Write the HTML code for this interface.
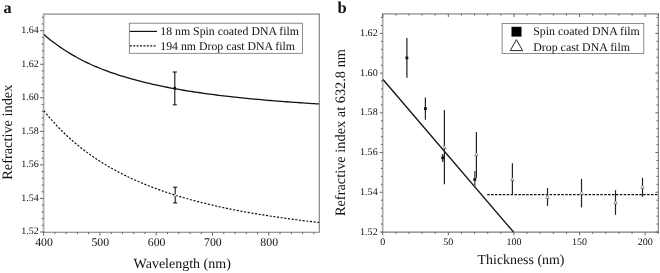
<!DOCTYPE html>
<html><head><meta charset="utf-8"><title>Figure</title>
<style>
html,body{margin:0;padding:0;background:#fff;}
svg{display:block;font-family:"Liberation Serif",serif;fill:#111;text-rendering:geometricPrecision;}
</style></head>
<body>
<svg width="660" height="273" viewBox="0 0 660 273" style="will-change:transform">
<rect x="0" y="0" width="660" height="273" fill="#fff"/>
<path d="M43.60,232.70 L43.60,14.10 L319.60,14.10" fill="none" stroke="#adadad" stroke-width="1.7" stroke-linejoin="miter"/>
<path d="M42.80,232.30 L319.30,232.30 L319.30,13.70" fill="none" stroke="#7c7c7c" stroke-width="1.1" stroke-linejoin="round"/>
<line x1="40.00" y1="232.00" x2="43.60" y2="232.00" stroke="#555" stroke-width="0.9" />
<text x="38.70" y="234.30" font-size="10" text-anchor="end" font-weight="normal" >1.52</text>
<line x1="41.70" y1="225.29" x2="43.60" y2="225.29" stroke="#555" stroke-width="0.9" />
<line x1="41.70" y1="218.58" x2="43.60" y2="218.58" stroke="#555" stroke-width="0.9" />
<line x1="41.70" y1="211.87" x2="43.60" y2="211.87" stroke="#555" stroke-width="0.9" />
<line x1="41.70" y1="205.16" x2="43.60" y2="205.16" stroke="#555" stroke-width="0.9" />
<line x1="40.00" y1="198.45" x2="43.60" y2="198.45" stroke="#555" stroke-width="0.9" />
<text x="38.70" y="200.75" font-size="10" text-anchor="end" font-weight="normal" >1.54</text>
<line x1="41.70" y1="191.74" x2="43.60" y2="191.74" stroke="#555" stroke-width="0.9" />
<line x1="41.70" y1="185.03" x2="43.60" y2="185.03" stroke="#555" stroke-width="0.9" />
<line x1="41.70" y1="178.32" x2="43.60" y2="178.32" stroke="#555" stroke-width="0.9" />
<line x1="41.70" y1="171.61" x2="43.60" y2="171.61" stroke="#555" stroke-width="0.9" />
<line x1="40.00" y1="164.90" x2="43.60" y2="164.90" stroke="#555" stroke-width="0.9" />
<text x="38.70" y="167.20" font-size="10" text-anchor="end" font-weight="normal" >1.56</text>
<line x1="41.70" y1="158.19" x2="43.60" y2="158.19" stroke="#555" stroke-width="0.9" />
<line x1="41.70" y1="151.48" x2="43.60" y2="151.48" stroke="#555" stroke-width="0.9" />
<line x1="41.70" y1="144.77" x2="43.60" y2="144.77" stroke="#555" stroke-width="0.9" />
<line x1="41.70" y1="138.06" x2="43.60" y2="138.06" stroke="#555" stroke-width="0.9" />
<line x1="40.00" y1="131.35" x2="43.60" y2="131.35" stroke="#555" stroke-width="0.9" />
<text x="38.70" y="133.65" font-size="10" text-anchor="end" font-weight="normal" >1.58</text>
<line x1="41.70" y1="124.64" x2="43.60" y2="124.64" stroke="#555" stroke-width="0.9" />
<line x1="41.70" y1="117.93" x2="43.60" y2="117.93" stroke="#555" stroke-width="0.9" />
<line x1="41.70" y1="111.22" x2="43.60" y2="111.22" stroke="#555" stroke-width="0.9" />
<line x1="41.70" y1="104.51" x2="43.60" y2="104.51" stroke="#555" stroke-width="0.9" />
<line x1="40.00" y1="97.80" x2="43.60" y2="97.80" stroke="#555" stroke-width="0.9" />
<text x="38.70" y="100.10" font-size="10" text-anchor="end" font-weight="normal" >1.60</text>
<line x1="41.70" y1="91.09" x2="43.60" y2="91.09" stroke="#555" stroke-width="0.9" />
<line x1="41.70" y1="84.38" x2="43.60" y2="84.38" stroke="#555" stroke-width="0.9" />
<line x1="41.70" y1="77.67" x2="43.60" y2="77.67" stroke="#555" stroke-width="0.9" />
<line x1="41.70" y1="70.96" x2="43.60" y2="70.96" stroke="#555" stroke-width="0.9" />
<line x1="40.00" y1="64.25" x2="43.60" y2="64.25" stroke="#555" stroke-width="0.9" />
<text x="38.70" y="66.55" font-size="10" text-anchor="end" font-weight="normal" >1.62</text>
<line x1="41.70" y1="57.54" x2="43.60" y2="57.54" stroke="#555" stroke-width="0.9" />
<line x1="41.70" y1="50.83" x2="43.60" y2="50.83" stroke="#555" stroke-width="0.9" />
<line x1="41.70" y1="44.12" x2="43.60" y2="44.12" stroke="#555" stroke-width="0.9" />
<line x1="41.70" y1="37.41" x2="43.60" y2="37.41" stroke="#555" stroke-width="0.9" />
<line x1="40.00" y1="30.70" x2="43.60" y2="30.70" stroke="#555" stroke-width="0.9" />
<text x="38.70" y="33.00" font-size="10" text-anchor="end" font-weight="normal" >1.64</text>
<line x1="41.70" y1="23.99" x2="43.60" y2="23.99" stroke="#555" stroke-width="0.9" />
<line x1="41.70" y1="17.28" x2="43.60" y2="17.28" stroke="#555" stroke-width="0.9" />
<line x1="43.60" y1="232.30" x2="43.60" y2="235.60" stroke="#555" stroke-width="0.9" />
<text x="44.00" y="246.40" font-size="11.8" text-anchor="middle" font-weight="normal" >400</text>
<line x1="54.86" y1="232.30" x2="54.86" y2="234.20" stroke="#555" stroke-width="0.9" />
<line x1="66.12" y1="232.30" x2="66.12" y2="234.20" stroke="#555" stroke-width="0.9" />
<line x1="77.38" y1="232.30" x2="77.38" y2="234.20" stroke="#555" stroke-width="0.9" />
<line x1="88.64" y1="232.30" x2="88.64" y2="234.20" stroke="#555" stroke-width="0.9" />
<line x1="99.90" y1="232.30" x2="99.90" y2="235.60" stroke="#555" stroke-width="0.9" />
<text x="100.30" y="246.40" font-size="11.8" text-anchor="middle" font-weight="normal" >500</text>
<line x1="111.16" y1="232.30" x2="111.16" y2="234.20" stroke="#555" stroke-width="0.9" />
<line x1="122.42" y1="232.30" x2="122.42" y2="234.20" stroke="#555" stroke-width="0.9" />
<line x1="133.68" y1="232.30" x2="133.68" y2="234.20" stroke="#555" stroke-width="0.9" />
<line x1="144.94" y1="232.30" x2="144.94" y2="234.20" stroke="#555" stroke-width="0.9" />
<line x1="156.20" y1="232.30" x2="156.20" y2="235.60" stroke="#555" stroke-width="0.9" />
<text x="156.60" y="246.40" font-size="11.8" text-anchor="middle" font-weight="normal" >600</text>
<line x1="167.46" y1="232.30" x2="167.46" y2="234.20" stroke="#555" stroke-width="0.9" />
<line x1="178.72" y1="232.30" x2="178.72" y2="234.20" stroke="#555" stroke-width="0.9" />
<line x1="189.98" y1="232.30" x2="189.98" y2="234.20" stroke="#555" stroke-width="0.9" />
<line x1="201.24" y1="232.30" x2="201.24" y2="234.20" stroke="#555" stroke-width="0.9" />
<line x1="212.50" y1="232.30" x2="212.50" y2="235.60" stroke="#555" stroke-width="0.9" />
<text x="212.90" y="246.40" font-size="11.8" text-anchor="middle" font-weight="normal" >700</text>
<line x1="223.76" y1="232.30" x2="223.76" y2="234.20" stroke="#555" stroke-width="0.9" />
<line x1="235.02" y1="232.30" x2="235.02" y2="234.20" stroke="#555" stroke-width="0.9" />
<line x1="246.28" y1="232.30" x2="246.28" y2="234.20" stroke="#555" stroke-width="0.9" />
<line x1="257.54" y1="232.30" x2="257.54" y2="234.20" stroke="#555" stroke-width="0.9" />
<line x1="268.80" y1="232.30" x2="268.80" y2="235.60" stroke="#555" stroke-width="0.9" />
<text x="269.20" y="246.40" font-size="11.8" text-anchor="middle" font-weight="normal" >800</text>
<line x1="280.06" y1="232.30" x2="280.06" y2="234.20" stroke="#555" stroke-width="0.9" />
<line x1="291.32" y1="232.30" x2="291.32" y2="234.20" stroke="#555" stroke-width="0.9" />
<line x1="302.58" y1="232.30" x2="302.58" y2="234.20" stroke="#555" stroke-width="0.9" />
<line x1="313.84" y1="232.30" x2="313.84" y2="234.20" stroke="#555" stroke-width="0.9" />
<text x="133.60" y="268.20" font-size="14" text-anchor="start" font-weight="normal" >Wavelength (nm)</text>
<text transform="translate(12.1,179.8) rotate(-90)" font-size="14.35">Refractive index</text>
<text x="3.60" y="12.70" font-size="16.2" text-anchor="start" font-weight="bold" >a</text>
<path d="M43.90,34.37 C44.68,35.04 47.01,37.09 48.56,38.38 C50.12,39.67 51.67,40.91 53.23,42.10 C54.78,43.30 56.33,44.45 57.89,45.57 C59.44,46.68 61.00,47.76 62.55,48.80 C64.11,49.84 65.66,50.84 67.21,51.81 C68.77,52.79 70.32,53.72 71.88,54.63 C73.43,55.54 74.98,56.42 76.54,57.27 C78.09,58.13 79.65,58.95 81.20,59.75 C82.76,60.55 84.31,61.32 85.86,62.07 C87.42,62.83 88.97,63.55 90.53,64.26 C92.08,64.97 93.64,65.65 95.19,66.32 C96.74,66.99 98.30,67.63 99.85,68.26 C101.41,68.89 102.96,69.50 104.52,70.09 C106.07,70.69 107.62,71.26 109.18,71.82 C110.73,72.39 112.29,72.93 113.84,73.46 C115.39,73.99 116.95,74.51 118.50,75.01 C120.06,75.52 121.61,76.01 123.17,76.48 C124.72,76.96 126.27,77.43 127.83,77.88 C129.38,78.33 130.94,78.77 132.49,79.21 C134.05,79.64 135.60,80.06 137.15,80.47 C138.71,80.87 140.26,81.27 141.82,81.66 C143.37,82.05 144.93,82.43 146.48,82.81 C148.03,83.18 149.59,83.54 151.14,83.89 C152.70,84.25 154.25,84.59 155.81,84.93 C157.36,85.27 158.91,85.60 160.47,85.92 C162.02,86.24 163.58,86.56 165.13,86.87 C166.68,87.18 168.24,87.48 169.79,87.77 C171.35,88.07 172.90,88.36 174.46,88.64 C176.01,88.92 177.56,89.20 179.12,89.47 C180.67,89.74 182.23,90.00 183.78,90.26 C185.34,90.52 186.89,90.77 188.44,91.02 C190.00,91.27 191.55,91.51 193.11,91.75 C194.66,91.99 196.22,92.22 197.77,92.45 C199.32,92.68 200.88,92.90 202.43,93.12 C203.99,93.34 205.54,93.56 207.09,93.77 C208.65,93.98 210.20,94.19 211.76,94.39 C213.31,94.59 214.87,94.79 216.42,94.99 C217.97,95.18 219.53,95.37 221.08,95.56 C222.64,95.75 224.19,95.94 225.75,96.12 C227.30,96.30 228.85,96.47 230.41,96.65 C231.96,96.82 233.52,97.00 235.07,97.16 C236.63,97.33 238.18,97.50 239.73,97.66 C241.29,97.82 242.84,97.98 244.40,98.14 C245.95,98.29 247.51,98.45 249.06,98.60 C250.61,98.75 252.17,98.90 253.72,99.04 C255.28,99.19 256.83,99.33 258.38,99.47 C259.94,99.61 261.49,99.75 263.05,99.89 C264.60,100.03 266.16,100.16 267.71,100.29 C269.26,100.42 270.82,100.55 272.37,100.68 C273.93,100.81 275.48,100.93 277.04,101.06 C278.59,101.18 280.14,101.30 281.70,101.42 C283.25,101.54 284.81,101.66 286.36,101.77 C287.92,101.89 289.47,102.00 291.02,102.11 C292.58,102.23 294.13,102.34 295.69,102.44 C297.24,102.55 298.79,102.66 300.35,102.77 C301.90,102.87 303.46,102.97 305.01,103.08 C306.57,103.18 308.12,103.28 309.67,103.38 C311.23,103.48 312.78,103.57 314.34,103.67 C315.89,103.77 318.22,103.91 319.00,103.95" fill="none" stroke="#111" stroke-width="1.3"/>
<path d="M43.90,110.81 C44.68,111.75 47.01,114.64 48.56,116.47 C50.12,118.31 51.67,120.08 53.23,121.80 C54.78,123.52 56.33,125.19 57.89,126.82 C59.44,128.44 61.00,130.01 62.55,131.54 C64.11,133.08 65.66,134.56 67.21,136.01 C68.77,137.45 70.32,138.85 71.88,140.22 C73.43,141.59 74.98,142.91 76.54,144.21 C78.09,145.50 79.65,146.75 81.20,147.98 C82.76,149.20 84.31,150.39 85.86,151.55 C87.42,152.72 88.97,153.84 90.53,154.95 C92.08,156.05 93.64,157.12 95.19,158.17 C96.74,159.21 98.30,160.23 99.85,161.23 C101.41,162.22 102.96,163.19 104.52,164.14 C106.07,165.08 107.62,166.00 109.18,166.91 C110.73,167.81 112.29,168.68 113.84,169.54 C115.39,170.40 116.95,171.24 118.50,172.06 C120.06,172.88 121.61,173.68 123.17,174.46 C124.72,175.24 126.27,176.00 127.83,176.75 C129.38,177.50 130.94,178.23 132.49,178.94 C134.05,179.65 135.60,180.35 137.15,181.03 C138.71,181.71 140.26,182.38 141.82,183.03 C143.37,183.69 144.93,184.33 146.48,184.95 C148.03,185.58 149.59,186.19 151.14,186.79 C152.70,187.39 154.25,187.97 155.81,188.55 C157.36,189.12 158.91,189.69 160.47,190.24 C162.02,190.79 163.58,191.33 165.13,191.86 C166.68,192.39 168.24,192.90 169.79,193.41 C171.35,193.92 172.90,194.42 174.46,194.91 C176.01,195.40 177.56,195.87 179.12,196.34 C180.67,196.81 182.23,197.27 183.78,197.73 C185.34,198.18 186.89,198.62 188.44,199.05 C190.00,199.49 191.55,199.92 193.11,200.33 C194.66,200.75 196.22,201.16 197.77,201.57 C199.32,201.97 200.88,202.37 202.43,202.75 C203.99,203.14 205.54,203.52 207.09,203.90 C208.65,204.27 210.20,204.64 211.76,205.00 C213.31,205.36 214.87,205.72 216.42,206.07 C217.97,206.42 219.53,206.76 221.08,207.10 C222.64,207.43 224.19,207.76 225.75,208.09 C227.30,208.42 228.85,208.73 230.41,209.05 C231.96,209.36 233.52,209.67 235.07,209.98 C236.63,210.28 238.18,210.58 239.73,210.87 C241.29,211.17 242.84,211.46 244.40,211.74 C245.95,212.02 247.51,212.30 249.06,212.58 C250.61,212.85 252.17,213.12 253.72,213.39 C255.28,213.66 256.83,213.92 258.38,214.18 C259.94,214.43 261.49,214.69 263.05,214.94 C264.60,215.19 266.16,215.43 267.71,215.68 C269.26,215.92 270.82,216.16 272.37,216.39 C273.93,216.63 275.48,216.86 277.04,217.08 C278.59,217.31 280.14,217.53 281.70,217.76 C283.25,217.98 284.81,218.19 286.36,218.41 C287.92,218.62 289.47,218.83 291.02,219.04 C292.58,219.25 294.13,219.45 295.69,219.65 C297.24,219.86 298.79,220.06 300.35,220.25 C301.90,220.45 303.46,220.64 305.01,220.83 C306.57,221.02 308.12,221.21 309.67,221.39 C311.23,221.58 312.78,221.76 314.34,221.94 C315.89,222.12 318.22,222.38 319.00,222.47" fill="none" stroke="#111" stroke-width="1.2" stroke-dasharray="2.1 1.6"/>
<line x1="174.80" y1="72.00" x2="174.80" y2="104.80" stroke="#111" stroke-width="1.1" />
<line x1="172.80" y1="72.00" x2="176.80" y2="72.00" stroke="#111" stroke-width="1.1" />
<line x1="172.80" y1="104.80" x2="176.80" y2="104.80" stroke="#111" stroke-width="1.1" />
<rect x="173.5" y="86.9" width="2.6" height="2.6" fill="#111"/>
<line x1="175.20" y1="187.20" x2="175.20" y2="202.90" stroke="#111" stroke-width="1.1" />
<line x1="173.20" y1="187.20" x2="177.20" y2="187.20" stroke="#111" stroke-width="1.1" />
<line x1="173.20" y1="202.90" x2="177.20" y2="202.90" stroke="#111" stroke-width="1.1" />
<path d="M173.7,196.29999999999998 L176.7,196.29999999999998 L175.2,193.5 Z" fill="#fff" stroke="#888" stroke-width="0.5"/>
<rect x="129.3" y="23.2" width="173.2" height="30.099999999999998" fill="#fff" stroke="#707070" stroke-width="0.8"/>
<line x1="129.80" y1="31.40" x2="157.00" y2="31.40" stroke="#111" stroke-width="1.15" />
<line x1="129.80" y1="45.90" x2="157.00" y2="45.90" stroke="#111" stroke-width="1.15" stroke-dasharray="2 1.4"/>
<text x="160.30" y="35.40" font-size="11.8" text-anchor="start" font-weight="normal" >18 nm Spin coated DNA film</text>
<text x="160.30" y="49.90" font-size="11.8" text-anchor="start" font-weight="normal" >194 nm Drop cast DNA film</text>
<path d="M382.70,232.50 L382.70,13.80 L658.60,13.80" fill="none" stroke="#adadad" stroke-width="1.7" stroke-linejoin="miter"/>
<path d="M381.90,232.10 L658.30,232.10 L658.30,13.40" fill="none" stroke="#7c7c7c" stroke-width="1.1" stroke-linejoin="round"/>
<line x1="379.80" y1="232.00" x2="382.70" y2="232.00" stroke="#555" stroke-width="0.9" />
<line x1="655.40" y1="232.00" x2="658.30" y2="232.00" stroke="#555" stroke-width="0.9" />
<text x="377.70" y="234.60" font-size="10.1" text-anchor="end" font-weight="normal" >1.52</text>
<line x1="380.90" y1="224.06" x2="382.70" y2="224.06" stroke="#555" stroke-width="0.9" />
<line x1="656.50" y1="224.06" x2="658.30" y2="224.06" stroke="#555" stroke-width="0.9" />
<line x1="380.90" y1="216.11" x2="382.70" y2="216.11" stroke="#555" stroke-width="0.9" />
<line x1="656.50" y1="216.11" x2="658.30" y2="216.11" stroke="#555" stroke-width="0.9" />
<line x1="380.90" y1="208.17" x2="382.70" y2="208.17" stroke="#555" stroke-width="0.9" />
<line x1="656.50" y1="208.17" x2="658.30" y2="208.17" stroke="#555" stroke-width="0.9" />
<line x1="380.90" y1="200.22" x2="382.70" y2="200.22" stroke="#555" stroke-width="0.9" />
<line x1="656.50" y1="200.22" x2="658.30" y2="200.22" stroke="#555" stroke-width="0.9" />
<line x1="379.80" y1="192.28" x2="382.70" y2="192.28" stroke="#555" stroke-width="0.9" />
<line x1="655.40" y1="192.28" x2="658.30" y2="192.28" stroke="#555" stroke-width="0.9" />
<text x="377.70" y="194.88" font-size="10.1" text-anchor="end" font-weight="normal" >1.54</text>
<line x1="380.90" y1="184.34" x2="382.70" y2="184.34" stroke="#555" stroke-width="0.9" />
<line x1="656.50" y1="184.34" x2="658.30" y2="184.34" stroke="#555" stroke-width="0.9" />
<line x1="380.90" y1="176.39" x2="382.70" y2="176.39" stroke="#555" stroke-width="0.9" />
<line x1="656.50" y1="176.39" x2="658.30" y2="176.39" stroke="#555" stroke-width="0.9" />
<line x1="380.90" y1="168.45" x2="382.70" y2="168.45" stroke="#555" stroke-width="0.9" />
<line x1="656.50" y1="168.45" x2="658.30" y2="168.45" stroke="#555" stroke-width="0.9" />
<line x1="380.90" y1="160.50" x2="382.70" y2="160.50" stroke="#555" stroke-width="0.9" />
<line x1="656.50" y1="160.50" x2="658.30" y2="160.50" stroke="#555" stroke-width="0.9" />
<line x1="379.80" y1="152.56" x2="382.70" y2="152.56" stroke="#555" stroke-width="0.9" />
<line x1="655.40" y1="152.56" x2="658.30" y2="152.56" stroke="#555" stroke-width="0.9" />
<text x="377.70" y="155.16" font-size="10.1" text-anchor="end" font-weight="normal" >1.56</text>
<line x1="380.90" y1="144.62" x2="382.70" y2="144.62" stroke="#555" stroke-width="0.9" />
<line x1="656.50" y1="144.62" x2="658.30" y2="144.62" stroke="#555" stroke-width="0.9" />
<line x1="380.90" y1="136.67" x2="382.70" y2="136.67" stroke="#555" stroke-width="0.9" />
<line x1="656.50" y1="136.67" x2="658.30" y2="136.67" stroke="#555" stroke-width="0.9" />
<line x1="380.90" y1="128.73" x2="382.70" y2="128.73" stroke="#555" stroke-width="0.9" />
<line x1="656.50" y1="128.73" x2="658.30" y2="128.73" stroke="#555" stroke-width="0.9" />
<line x1="380.90" y1="120.78" x2="382.70" y2="120.78" stroke="#555" stroke-width="0.9" />
<line x1="656.50" y1="120.78" x2="658.30" y2="120.78" stroke="#555" stroke-width="0.9" />
<line x1="379.80" y1="112.84" x2="382.70" y2="112.84" stroke="#555" stroke-width="0.9" />
<line x1="655.40" y1="112.84" x2="658.30" y2="112.84" stroke="#555" stroke-width="0.9" />
<text x="377.70" y="115.44" font-size="10.1" text-anchor="end" font-weight="normal" >1.58</text>
<line x1="380.90" y1="104.90" x2="382.70" y2="104.90" stroke="#555" stroke-width="0.9" />
<line x1="656.50" y1="104.90" x2="658.30" y2="104.90" stroke="#555" stroke-width="0.9" />
<line x1="380.90" y1="96.95" x2="382.70" y2="96.95" stroke="#555" stroke-width="0.9" />
<line x1="656.50" y1="96.95" x2="658.30" y2="96.95" stroke="#555" stroke-width="0.9" />
<line x1="380.90" y1="89.01" x2="382.70" y2="89.01" stroke="#555" stroke-width="0.9" />
<line x1="656.50" y1="89.01" x2="658.30" y2="89.01" stroke="#555" stroke-width="0.9" />
<line x1="380.90" y1="81.06" x2="382.70" y2="81.06" stroke="#555" stroke-width="0.9" />
<line x1="656.50" y1="81.06" x2="658.30" y2="81.06" stroke="#555" stroke-width="0.9" />
<line x1="379.80" y1="73.12" x2="382.70" y2="73.12" stroke="#555" stroke-width="0.9" />
<line x1="655.40" y1="73.12" x2="658.30" y2="73.12" stroke="#555" stroke-width="0.9" />
<text x="377.70" y="75.72" font-size="10.1" text-anchor="end" font-weight="normal" >1.60</text>
<line x1="380.90" y1="65.18" x2="382.70" y2="65.18" stroke="#555" stroke-width="0.9" />
<line x1="656.50" y1="65.18" x2="658.30" y2="65.18" stroke="#555" stroke-width="0.9" />
<line x1="380.90" y1="57.23" x2="382.70" y2="57.23" stroke="#555" stroke-width="0.9" />
<line x1="656.50" y1="57.23" x2="658.30" y2="57.23" stroke="#555" stroke-width="0.9" />
<line x1="380.90" y1="49.29" x2="382.70" y2="49.29" stroke="#555" stroke-width="0.9" />
<line x1="656.50" y1="49.29" x2="658.30" y2="49.29" stroke="#555" stroke-width="0.9" />
<line x1="380.90" y1="41.34" x2="382.70" y2="41.34" stroke="#555" stroke-width="0.9" />
<line x1="656.50" y1="41.34" x2="658.30" y2="41.34" stroke="#555" stroke-width="0.9" />
<line x1="379.80" y1="33.40" x2="382.70" y2="33.40" stroke="#555" stroke-width="0.9" />
<line x1="655.40" y1="33.40" x2="658.30" y2="33.40" stroke="#555" stroke-width="0.9" />
<text x="377.70" y="36.00" font-size="10.1" text-anchor="end" font-weight="normal" >1.62</text>
<line x1="380.90" y1="25.46" x2="382.70" y2="25.46" stroke="#555" stroke-width="0.9" />
<line x1="656.50" y1="25.46" x2="658.30" y2="25.46" stroke="#555" stroke-width="0.9" />
<line x1="380.90" y1="17.51" x2="382.70" y2="17.51" stroke="#555" stroke-width="0.9" />
<line x1="656.50" y1="17.51" x2="658.30" y2="17.51" stroke="#555" stroke-width="0.9" />
<line x1="382.70" y1="232.10" x2="382.70" y2="235.30" stroke="#555" stroke-width="0.9" />
<line x1="382.70" y1="13.80" x2="382.70" y2="17.00" stroke="#555" stroke-width="0.9" />
<text x="382.70" y="245.20" font-size="10" text-anchor="middle" font-weight="normal" >0</text>
<line x1="395.82" y1="232.10" x2="395.82" y2="233.90" stroke="#555" stroke-width="0.9" />
<line x1="395.82" y1="13.80" x2="395.82" y2="15.60" stroke="#555" stroke-width="0.9" />
<line x1="408.95" y1="232.10" x2="408.95" y2="233.90" stroke="#555" stroke-width="0.9" />
<line x1="408.95" y1="13.80" x2="408.95" y2="15.60" stroke="#555" stroke-width="0.9" />
<line x1="422.07" y1="232.10" x2="422.07" y2="233.90" stroke="#555" stroke-width="0.9" />
<line x1="422.07" y1="13.80" x2="422.07" y2="15.60" stroke="#555" stroke-width="0.9" />
<line x1="435.20" y1="232.10" x2="435.20" y2="233.90" stroke="#555" stroke-width="0.9" />
<line x1="435.20" y1="13.80" x2="435.20" y2="15.60" stroke="#555" stroke-width="0.9" />
<line x1="448.32" y1="232.10" x2="448.32" y2="235.30" stroke="#555" stroke-width="0.9" />
<line x1="448.32" y1="13.80" x2="448.32" y2="17.00" stroke="#555" stroke-width="0.9" />
<text x="448.32" y="245.20" font-size="10" text-anchor="middle" font-weight="normal" >50</text>
<line x1="461.44" y1="232.10" x2="461.44" y2="233.90" stroke="#555" stroke-width="0.9" />
<line x1="461.44" y1="13.80" x2="461.44" y2="15.60" stroke="#555" stroke-width="0.9" />
<line x1="474.57" y1="232.10" x2="474.57" y2="233.90" stroke="#555" stroke-width="0.9" />
<line x1="474.57" y1="13.80" x2="474.57" y2="15.60" stroke="#555" stroke-width="0.9" />
<line x1="487.69" y1="232.10" x2="487.69" y2="233.90" stroke="#555" stroke-width="0.9" />
<line x1="487.69" y1="13.80" x2="487.69" y2="15.60" stroke="#555" stroke-width="0.9" />
<line x1="500.82" y1="232.10" x2="500.82" y2="233.90" stroke="#555" stroke-width="0.9" />
<line x1="500.82" y1="13.80" x2="500.82" y2="15.60" stroke="#555" stroke-width="0.9" />
<line x1="513.94" y1="232.10" x2="513.94" y2="235.30" stroke="#555" stroke-width="0.9" />
<line x1="513.94" y1="13.80" x2="513.94" y2="17.00" stroke="#555" stroke-width="0.9" />
<text x="513.94" y="245.20" font-size="10" text-anchor="middle" font-weight="normal" >100</text>
<line x1="527.06" y1="232.10" x2="527.06" y2="233.90" stroke="#555" stroke-width="0.9" />
<line x1="527.06" y1="13.80" x2="527.06" y2="15.60" stroke="#555" stroke-width="0.9" />
<line x1="540.19" y1="232.10" x2="540.19" y2="233.90" stroke="#555" stroke-width="0.9" />
<line x1="540.19" y1="13.80" x2="540.19" y2="15.60" stroke="#555" stroke-width="0.9" />
<line x1="553.31" y1="232.10" x2="553.31" y2="233.90" stroke="#555" stroke-width="0.9" />
<line x1="553.31" y1="13.80" x2="553.31" y2="15.60" stroke="#555" stroke-width="0.9" />
<line x1="566.44" y1="232.10" x2="566.44" y2="233.90" stroke="#555" stroke-width="0.9" />
<line x1="566.44" y1="13.80" x2="566.44" y2="15.60" stroke="#555" stroke-width="0.9" />
<line x1="579.56" y1="232.10" x2="579.56" y2="235.30" stroke="#555" stroke-width="0.9" />
<line x1="579.56" y1="13.80" x2="579.56" y2="17.00" stroke="#555" stroke-width="0.9" />
<text x="579.56" y="245.20" font-size="10" text-anchor="middle" font-weight="normal" >150</text>
<line x1="592.68" y1="232.10" x2="592.68" y2="233.90" stroke="#555" stroke-width="0.9" />
<line x1="592.68" y1="13.80" x2="592.68" y2="15.60" stroke="#555" stroke-width="0.9" />
<line x1="605.81" y1="232.10" x2="605.81" y2="233.90" stroke="#555" stroke-width="0.9" />
<line x1="605.81" y1="13.80" x2="605.81" y2="15.60" stroke="#555" stroke-width="0.9" />
<line x1="618.93" y1="232.10" x2="618.93" y2="233.90" stroke="#555" stroke-width="0.9" />
<line x1="618.93" y1="13.80" x2="618.93" y2="15.60" stroke="#555" stroke-width="0.9" />
<line x1="632.06" y1="232.10" x2="632.06" y2="233.90" stroke="#555" stroke-width="0.9" />
<line x1="632.06" y1="13.80" x2="632.06" y2="15.60" stroke="#555" stroke-width="0.9" />
<line x1="645.18" y1="232.10" x2="645.18" y2="235.30" stroke="#555" stroke-width="0.9" />
<line x1="645.18" y1="13.80" x2="645.18" y2="17.00" stroke="#555" stroke-width="0.9" />
<text x="645.18" y="245.20" font-size="10" text-anchor="middle" font-weight="normal" >200</text>
<line x1="658.30" y1="232.10" x2="658.30" y2="233.90" stroke="#555" stroke-width="0.9" />
<line x1="658.30" y1="13.80" x2="658.30" y2="15.60" stroke="#555" stroke-width="0.9" />
<text x="477.60" y="263.80" font-size="13.9" text-anchor="start" font-weight="normal" >Thickness (nm)</text>
<text transform="translate(345.3,216.1) rotate(-90)" font-size="14.36">Refractive index at 632.8 nm</text>
<text x="337.60" y="12.90" font-size="16.5" text-anchor="start" font-weight="bold" >b</text>
<line x1="383.00" y1="79.50" x2="513.50" y2="232.00" stroke="#111" stroke-width="1.3" />
<line x1="487.20" y1="194.50" x2="658.30" y2="194.50" stroke="#111" stroke-width="1.25" stroke-dasharray="2.5 1.4"/>
<line x1="406.90" y1="38.10" x2="406.90" y2="77.80" stroke="#222" stroke-width="1.2" />
<rect x="405.50" y="56.50" width="2.8" height="2.8" fill="#111"/>
<line x1="425.40" y1="97.60" x2="425.40" y2="119.80" stroke="#222" stroke-width="1.2" />
<rect x="424.00" y="107.20" width="2.8" height="2.8" fill="#111"/>
<line x1="442.70" y1="154.00" x2="442.70" y2="162.00" stroke="#444" stroke-width="1.5" />
<rect x="441.30" y="156.40" width="2.8" height="2.8" fill="#111"/>
<line x1="474.80" y1="171.00" x2="474.80" y2="188.00" stroke="#555" stroke-width="1.4" />
<rect x="473.40" y="178.10" width="2.8" height="2.8" fill="#111"/>
<line x1="444.40" y1="109.90" x2="444.40" y2="184.20" stroke="#222" stroke-width="1.2" />
<path d="M442.65,148.60 L446.15,148.60 L444.40,145.45 Z" fill="#fff" stroke="#444" stroke-width="0.5"/>
<line x1="476.40" y1="132.00" x2="476.40" y2="178.00" stroke="#222" stroke-width="1.2" />
<path d="M474.65,155.80 L478.15,155.80 L476.40,152.65 Z" fill="#fff" stroke="#444" stroke-width="0.5"/>
<line x1="512.40" y1="163.20" x2="512.40" y2="194.90" stroke="#222" stroke-width="1.2" />
<path d="M510.65,180.60 L514.15,180.60 L512.40,177.45 Z" fill="#fff" stroke="#444" stroke-width="0.5"/>
<line x1="547.50" y1="188.00" x2="547.50" y2="205.90" stroke="#222" stroke-width="1.2" />
<path d="M545.75,198.30 L549.25,198.30 L547.50,195.15 Z" fill="#fff" stroke="#444" stroke-width="0.5"/>
<line x1="581.50" y1="178.80" x2="581.50" y2="207.40" stroke="#222" stroke-width="1.2" />
<path d="M579.75,194.40 L583.25,194.40 L581.50,191.25 Z" fill="#fff" stroke="#444" stroke-width="0.5"/>
<line x1="615.50" y1="190.20" x2="615.50" y2="214.80" stroke="#222" stroke-width="1.2" />
<path d="M613.75,203.90 L617.25,203.90 L615.50,200.75 Z" fill="#fff" stroke="#444" stroke-width="0.5"/>
<line x1="642.50" y1="177.70" x2="642.50" y2="196.80" stroke="#222" stroke-width="1.2" />
<path d="M640.75,188.40 L644.25,188.40 L642.50,185.25 Z" fill="#fff" stroke="#444" stroke-width="0.5"/>
<rect x="502.1" y="23.4" width="141.69999999999993" height="30.0" fill="#fff" stroke="#707070" stroke-width="0.8"/>
<rect x="511.5" y="26.8" width="10" height="9.8" fill="#000"/>
<path d="M510.2,50.6 L522.6,50.6 L516.4,39.6 Z" fill="#fff" stroke="#111" stroke-width="0.9"/>
<text x="533.20" y="35.20" font-size="11.9" text-anchor="start" font-weight="normal" >Spin coated DNA film</text>
<text x="533.20" y="50.60" font-size="11.9" text-anchor="start" font-weight="normal" >Drop cast DNA film</text>
</svg>
</body></html>
